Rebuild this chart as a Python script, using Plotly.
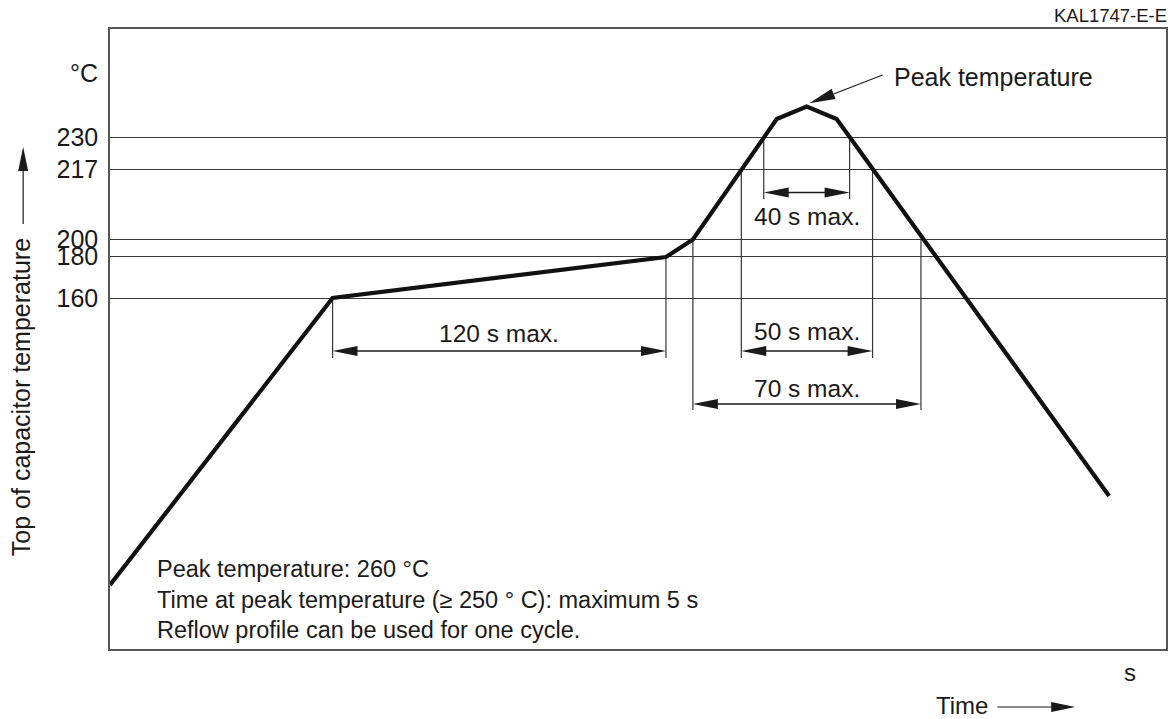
import plotly.graph_objects as go

# ---------------- data (schematic diagram units) ----------------
# reflow profile: schematic time position and schematic temperature level
profile_time = [0, 223, 557, 584, 668, 698, 728, 1001]
profile_level = [64, 351, 392, 409.5, 530, 542.5, 530, 153]

# temperature reference levels (labels and their schematic heights)
temp_labels = ["160", "180", "200", "217", "230"]
temp_levels = [350.7, 392.3, 409.5, 479.3, 511.5]

# dimension arrows
dim_labels = ["120 s max.", "40 s max.", "50 s max.", "70 s max."]
dim_start = [223, 655, 632.5, 584]
dim_end = [557, 741, 764, 812.5]
dim_top_left = [351, 511.5, 479.3, 409.5]
dim_top_right = [392, 511.5, 479.3, 409.5]
dim_bottom = [291, 450, 291, 239]
dim_arrow_y = [298, 456.5, 298, 245]
dim_label_y = [316, 433, 318, 261]

notes = [
    "Peak temperature: 260 °C",
    "Time at peak temperature (≥ 250 ° C): maximum 5 s",
    "Reflow profile can be used for one cycle.",
]
notes_y = [80, 49.5, 19]

# ---------------- layout constants ----------------
W, H = 1172, 719
L, R, T, B = 110, 4, 29, 70
PW, PH = W - L - R, H - T - B
FONT = "Liberation Sans, Arial, Helvetica, sans-serif"
INK = "#1a1a1a"


def px2paper(px, py):
    return (px - L) / PW, (H - B - py) / PH


def head(tip, u, length=25, half=5):
    ux, uy = u
    n = (ux * ux + uy * uy) ** 0.5
    ux, uy = ux / n, uy / n
    bx, by = tip[0] - length * ux, tip[1] - length * uy
    nx, ny = -uy, ux
    p1 = (bx + half * nx, by + half * ny)
    p2 = (bx - half * nx, by - half * ny)
    return p1, p2, (bx, by)


def head_path(tip, u, length=25, half=5):
    p1, p2, _ = head(tip, u, length, half)
    return f"M {tip[0]},{tip[1]} L {p1[0]},{p1[1]} L {p2[0]},{p2[1]} Z"


fig = go.Figure()
shapes = []
annotations = []

# witness (extension) lines and dimension lines
for i, lab in enumerate(dim_labels):
    x0, x1 = dim_start[i], dim_end[i]
    fig.add_trace(go.Scatter(x=[x0, x0], y=[dim_top_left[i], dim_bottom[i]], mode="lines",
                             line=dict(color="#333333", width=1.2), hoverinfo="skip", showlegend=False))
    fig.add_trace(go.Scatter(x=[x1, x1], y=[dim_top_right[i], dim_bottom[i]], mode="lines",
                             line=dict(color="#333333", width=1.2), hoverinfo="skip", showlegend=False))
    ay = dim_arrow_y[i]
    fig.add_trace(go.Scatter(x=[x0 + 20, x1 - 20], y=[ay, ay], mode="lines",
                             line=dict(color=INK, width=1.3), hoverinfo="skip", showlegend=False))
    shapes.append(dict(type="path", xref="x", yref="y", path=head_path((x0, ay), (-1, 0)),
                       fillcolor=INK, line=dict(width=0)))
    shapes.append(dict(type="path", xref="x", yref="y", path=head_path((x1, ay), (1, 0)),
                       fillcolor=INK, line=dict(width=0)))
    annotations.append(dict(x=(x0 + x1) / 2, y=dim_label_y[i], xref="x", yref="y", text=lab,
                            showarrow=False, font=dict(family=FONT, size=24.5, color=INK),
                            xanchor="center", yanchor="middle"))

# profile curve
fig.add_trace(go.Scatter(x=profile_time, y=profile_level, mode="lines",
                         line=dict(color="#111111", width=4.2), hoverinfo="skip", showlegend=False))

# peak temperature pointer
p_start = (774, 574)
p_tip = (700.7, 545.7)
_, _, pb = head(p_tip, (p_tip[0] - p_start[0], p_tip[1] - p_start[1]), 26, 5.5)
fig.add_trace(go.Scatter(x=[p_start[0], pb[0]], y=[p_start[1], pb[1]], mode="lines",
                         line=dict(color=INK, width=1.2), hoverinfo="skip", showlegend=False))
shapes.append(dict(type="path", xref="x", yref="y",
                   path=head_path(p_tip, (p_tip[0] - p_start[0], p_tip[1] - p_start[1]), 26, 5.5),
                   fillcolor=INK, line=dict(width=0)))
annotations.append(dict(x=783, y=572, xref="x", yref="y", text="Peak temperature", showarrow=False,
                        font=dict(family=FONT, size=25, color=INK), xanchor="left", yanchor="middle"))

# notes block
for k, txt in enumerate(notes):
    annotations.append(dict(x=45, y=notes_y[k], xref="x", yref="y", text=txt, showarrow=False,
                            font=dict(family=FONT, size=23.5, color=INK), xanchor="left", yanchor="middle"))

# y axis unit
ux_, uy_ = px2paper(100, 73)
annotations.append(dict(x=ux_, y=uy_, xref="paper", yref="paper", text="°C", showarrow=False,
                        font=dict(family=FONT, size=25, color=INK), xanchor="right", yanchor="middle"))

# y axis title with arrow
tx, ty = px2paper(21, 397)
annotations.append(dict(x=tx, y=ty, xref="paper", yref="paper", text="Top of capacitor temperature",
                        textangle=-90, showarrow=False, font=dict(family=FONT, size=25, color=INK),
                        xanchor="center", yanchor="middle"))
a0 = px2paper(23, 224)
a1 = px2paper(23, 170)
shapes.append(dict(type="line", xref="paper", yref="paper", x0=a0[0], y0=a0[1], x1=a1[0], y1=a1[1],
                   line=dict(color=INK, width=1.2)))
pts = [px2paper(23, 147), px2paper(18, 171), px2paper(28, 171)]
shapes.append(dict(type="path", xref="paper", yref="paper",
                   path=f"M {pts[0][0]},{pts[0][1]} L {pts[1][0]},{pts[1][1]} L {pts[2][0]},{pts[2][1]} Z",
                   fillcolor=INK, line=dict(width=0)))

# x axis unit and title with arrow
sx, sy = px2paper(1132, 672)
annotations.append(dict(x=sx, y=sy, xref="paper", yref="paper", text="s", showarrow=False,
                        font=dict(family=FONT, size=24, color=INK), xanchor="center", yanchor="middle"))
tx, ty = px2paper(992, 705)
annotations.append(dict(x=tx, y=ty, xref="paper", yref="paper", text="Time", showarrow=False,
                        font=dict(family=FONT, size=24, color=INK), xanchor="right", yanchor="middle"))
b0 = px2paper(999, 707)
b1 = px2paper(1055, 707)
shapes.append(dict(type="line", xref="paper", yref="paper", x0=b0[0], y0=b0[1], x1=b1[0], y1=b1[1],
                   line=dict(color=INK, width=1.2)))
pts = [px2paper(1077, 707), px2paper(1053, 702), px2paper(1053, 712)]
shapes.append(dict(type="path", xref="paper", yref="paper",
                   path=f"M {pts[0][0]},{pts[0][1]} L {pts[1][0]},{pts[1][1]} L {pts[2][0]},{pts[2][1]} Z",
                   fillcolor=INK, line=dict(width=0)))

# drawing code
kx, ky = px2paper(1171, 16)
annotations.append(dict(x=kx, y=ky, xref="paper", yref="paper", text="KAL1747-E-E", showarrow=False,
                        font=dict(family=FONT, size=18.5, color=INK), xanchor="right", yanchor="middle"))

fig.update_layout(
    width=W, height=H,
    margin=dict(l=L, r=R, t=T, b=B, pad=0),
    paper_bgcolor="white", plot_bgcolor="white",
    showlegend=False,
    shapes=shapes, annotations=annotations,
    xaxis=dict(range=[0, PW], showgrid=False, zeroline=False, showticklabels=False, ticks="",
               showline=True, mirror=True, linecolor="#555555", linewidth=1.5, fixedrange=True),
    yaxis=dict(range=[0, PH], tickmode="array", tickvals=temp_levels, ticktext=temp_labels,
               showgrid=True, gridcolor="#3a3a3a", gridwidth=1.3, zeroline=False,
               ticks="outside", ticklen=5, tickcolor="rgba(0,0,0,0)",
               tickfont=dict(family=FONT, size=25, color=INK),
               showline=True, mirror=True, linecolor="#555555", linewidth=1.5, fixedrange=True),
)

fig.write_html("out.html", config={"displayModeBar": False},
               post_script="document.body.style.margin='0px';document.body.style.overflow='hidden';")
